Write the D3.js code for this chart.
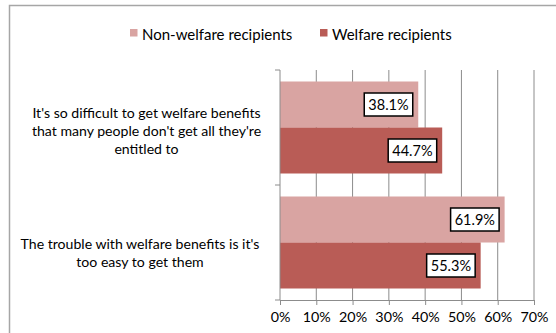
<!DOCTYPE html>
<html>
<head>
<meta charset="utf-8">
<script src="https://cdn.jsdelivr.net/npm/d3@7"></script>
<style>
  html, body { margin: 0; padding: 0; background: #fff; }
  svg { display: block; font-family: Lato, "Open Sans", sans-serif; }
</style>
</head>
<body>
<svg id="chart" width="556" height="333"></svg>
<script>
// Statements and survey results
const categories = [
  "It's so difficult to get welfare benefits that many people don't get all they're entitled to",
  "The trouble with welfare benefits is it's too easy to get them"
];
const categoryLines = [
  ["It's so difficult to get welfare benefits", "that many people don't get all they're", "entitled to"],
  ["The trouble with welfare benefits is it's", "too easy to get them"]
];
const seriesNames = ["Non-welfare recipients", "Welfare recipients"];
const nonWelfare = [38.1, 61.9];
const welfare = [44.7, 55.3];
const tickValues = [0, 10, 20, 30, 40, 50, 60, 70];
const colors = ["#D9A4A2", "#B95C56"];

const svg = d3.select("#chart");
const plot = { left: 280, right: 534, top: 70, bottom: 300 };

// Outer chart frame
svg.append("path")
  .attr("d", "M9.5,333 L9.5,5.5 L556,5.5")
  .attr("fill", "none").attr("stroke", "#a6a6a6").attr("stroke-width", 1.5);

const x = d3.scaleLinear().domain([0, 70]).range([plot.left, plot.right]);
const y = d3.scaleBand().domain(categories).range([plot.top, plot.bottom]).paddingInner(0.2).paddingOuter(0.1);
const ySub = d3.scaleBand().domain(seriesNames).range([0, y.bandwidth()]);

// Vertical gridlines
svg.append("g").selectAll("line").data(tickValues.slice(1)).join("line")
  .attr("x1", d => x(d)).attr("x2", d => x(d))
  .attr("y1", plot.top).attr("y2", plot.bottom)
  .attr("stroke", "#8c8c8c").attr("stroke-width", 1);

// Bars
const rows = categories.map((c, i) => ({ c, vals: [nonWelfare[i], welfare[i]] }));
const groups = svg.append("g").selectAll("g").data(rows).join("g")
  .attr("transform", d => `translate(0,${y(d.c)})`);

groups.selectAll("rect").data(d => d.vals.map((v, j) => ({ v, s: seriesNames[j], j }))).join("rect")
  .attr("x", x(0)).attr("y", d => ySub(d.s))
  .attr("width", d => x(d.v) - x(0)).attr("height", ySub.bandwidth())
  .attr("fill", d => colors[d.j]);

// Value labels in boxes
const boxW = 48.5, boxH = 23;
const lab = groups.selectAll("g.lab").data(d => d.vals.map((v, j) => ({ v, s: seriesNames[j], j }))).join("g")
  .attr("class", "lab");
lab.each(function(d) {
  const g = d3.select(this);
  const cx = x(d.v) - 5.5 - boxW / 2;
  const cy = ySub(d.s) + ySub.bandwidth() / 2;
  g.append("rect")
    .attr("x", cx - boxW / 2).attr("y", cy - boxH / 2)
    .attr("width", boxW).attr("height", boxH)
    .attr("fill", "#fff").attr("stroke", "#000").attr("stroke-width", 1.5);
  g.append("text")
    .attr("x", cx).attr("y", cy)
    .attr("font-size", 14.5).attr("fill", "#000")
    .attr("text-anchor", "middle").attr("dominant-baseline", "central")
    .text(d3.format(".1f")(d.v) + "%");
});

// Category axis
const yAxis = svg.append("g").attr("transform", `translate(${plot.left},0)`);
yAxis.append("line").attr("x1", 0).attr("x2", 0).attr("y1", plot.top).attr("y2", plot.bottom)
  .attr("stroke", "#8c8c8c");
const yTicks = [plot.top, y(categories[1]) - y.step() * y.paddingInner() / 2, plot.bottom];
yAxis.selectAll("line.t").data(yTicks).join("line").attr("class", "t")
  .attr("x1", -5).attr("x2", 0).attr("y1", d => d).attr("y2", d => d)
  .attr("stroke", "#8c8c8c");

// Category labels
const labelCenters = [[146.5, 130], [140, 252.5]];
categoryLines.forEach((lines, i) => {
  const t = svg.append("text").attr("text-anchor", "middle")
    .attr("font-size", 14.1).attr("fill", "#000");
  const lh = 18;
  const y0 = labelCenters[i][1] - (lines.length - 1) * lh / 2;
  lines.forEach((ln, k) => {
    t.append("tspan").attr("x", labelCenters[i][0]).attr("y", y0 + k * lh)
      .attr("dominant-baseline", "central").text(ln);
  });
});

// Value axis
const xAxis = d3.axisBottom(x).tickValues(tickValues).tickSize(5).tickPadding(7)
  .tickFormat(d => d + "%");
const xg = svg.append("g").attr("transform", `translate(0,${plot.bottom})`).call(xAxis);
xg.select(".domain").attr("stroke", "#8c8c8c");
xg.selectAll(".tick line").attr("stroke", "#8c8c8c");
xg.selectAll(".tick text").attr("font-size", 14.3).attr("fill", "#000")
  .attr("font-family", "Lato, 'Open Sans', sans-serif");

// Legend
const legendItems = [{ name: seriesNames[0], x: 130 }, { name: seriesNames[1], x: 320 }];
const lg = svg.append("g").selectAll("g").data(legendItems).join("g")
  .attr("transform", d => `translate(${d.x},29)`);
lg.append("rect").attr("width", 7.5).attr("height", 7.5).attr("fill", (d, i) => colors[i]);
lg.append("text").attr("x", 12).attr("y", 4.5).attr("dominant-baseline", "central")
  .attr("font-size", 15).attr("fill", "#000").text(d => d.name);
</script>
</body>
</html>
